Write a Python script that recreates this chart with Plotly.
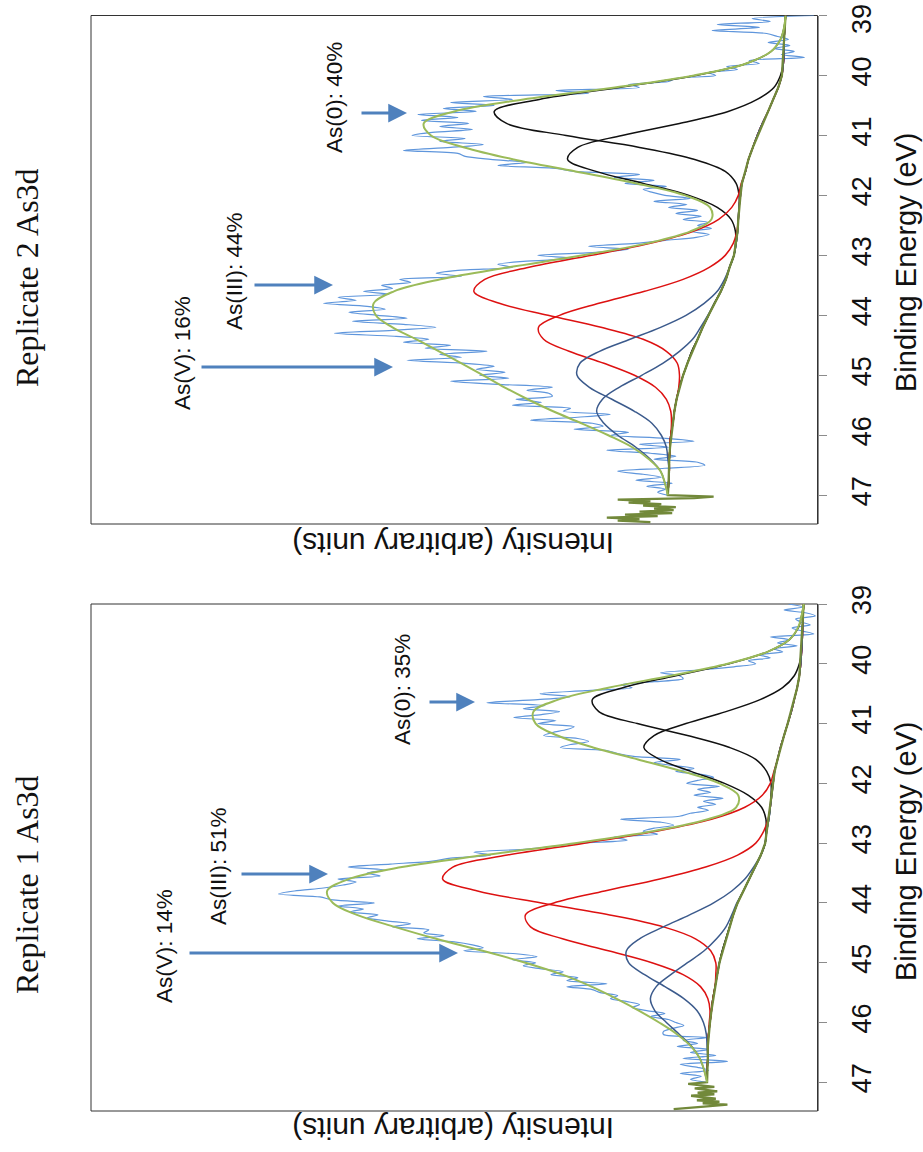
import plotly.graph_objects as go

W, H = 923, 1152

# ---------------- data ----------------
# binding-energy grid of the fitted curves (eV)
be_fit = [39.0, 39.2, 39.4, 39.6, 39.8, 40.0, 40.2, 40.4, 40.6, 40.8,
          41.0, 41.2, 41.4, 41.6, 41.8, 42.0, 42.2, 42.4, 42.6, 42.8,
          43.0, 43.2, 43.4, 43.6, 43.8, 44.0, 44.2, 44.4, 44.6, 44.8,
          45.0, 45.2, 45.4, 45.6, 45.8, 46.0, 46.2, 46.4, 46.6, 46.8, 47.0]

# binding-energy grid of the measured spectra (eV)
be_raw = [39.00, 39.05, 39.10, 39.15, 39.20, 39.25, 39.30, 39.35, 39.40, 39.45,
          39.50, 39.55, 39.60, 39.65, 39.70, 39.75, 39.80, 39.85, 39.90, 39.95,
          40.00, 40.05, 40.10, 40.15, 40.20, 40.25, 40.30, 40.35, 40.40, 40.45,
          40.50, 40.55, 40.60, 40.65, 40.70, 40.75, 40.80, 40.85, 40.90, 40.95,
          41.00, 41.05, 41.10, 41.15, 41.20, 41.25, 41.30, 41.35, 41.40, 41.45,
          41.50, 41.55, 41.60, 41.65, 41.70, 41.75, 41.80, 41.85, 41.90, 41.95,
          42.00, 42.05, 42.10, 42.15, 42.20, 42.25, 42.30, 42.35, 42.40, 42.45,
          42.50, 42.55, 42.60, 42.65, 42.70, 42.75, 42.80, 42.85, 42.90, 42.95,
          43.00, 43.05, 43.10, 43.15, 43.20, 43.25, 43.30, 43.35, 43.40, 43.45,
          43.50, 43.55, 43.60, 43.65, 43.70, 43.75, 43.80, 43.85, 43.90, 43.95,
          44.00, 44.05, 44.10, 44.15, 44.20, 44.25, 44.30, 44.35, 44.40, 44.45,
          44.50, 44.55, 44.60, 44.65, 44.70, 44.75, 44.80, 44.85, 44.90, 44.95,
          45.00, 45.05, 45.10, 45.15, 45.20, 45.25, 45.30, 45.35, 45.40, 45.45,
          45.50, 45.55, 45.60, 45.65, 45.70, 45.75, 45.80, 45.85, 45.90, 45.95,
          46.00, 46.05, 46.10, 46.15, 46.20, 46.25, 46.30, 46.35, 46.40, 46.45,
          46.50, 46.55, 46.60, 46.65, 46.70, 46.75, 46.80, 46.85, 46.90, 46.95,
          47.00]

# raw data beyond the fit window (drawn with the background colour)
be_tail = [47.0, 47.025, 47.05, 47.075, 47.1, 47.125, 47.15, 47.175, 47.2, 47.225,
           47.25, 47.275, 47.3, 47.325, 47.35, 47.375, 47.4, 47.425, 47.45]

ticks_be = [39, 40, 41, 42, 43, 44, 45, 46, 47]

# ---- Replicate 2 (upper panel) ----
r2_raw = [0.5, 9.0, 6.5, 13.8, 8.0, 14.5, 7.0, 5.5, 4.0, 6.8,
          3.8, 6.0, 3.2, 5.0, 1.8, 9.4, 8.0, 12.5, 11.0, 15.0,
          14.0, 19.5, 20.5, 26.0, 24.5, 36.0, 31.5, 46.0, 42.0, 50.5,
          44.5, 51.5, 47.0, 55.0, 49.5, 54.5, 48.0, 52.0, 47.5, 53.0,
          55.8, 48.5, 52.0, 46.0, 50.5, 57.0, 49.5, 48.5, 45.0, 40.0,
          44.0, 36.0, 33.5, 24.5, 28.0, 22.5, 26.5, 20.8, 24.0, 22.7,
          21.0, 17.5, 22.5, 18.0, 20.5, 16.5, 19.5, 16.0, 18.5, 15.0,
          16.5, 14.6, 17.5, 14.9, 16.7, 21.0, 25.0, 31.5, 26.0, 30.5,
          38.5, 33.5, 40.5, 44.0, 42.0, 49.5, 52.5, 49.0, 57.5, 56.0,
          60.0, 58.5, 62.5, 59.0, 66.0, 63.5, 68.0, 62.0, 59.5, 64.5,
          60.5, 56.5, 64.0, 57.0, 52.5, 58.5, 66.5, 58.0, 53.5, 57.0,
          50.5, 54.0, 45.5, 52.0, 49.0, 56.5, 48.5, 44.5, 47.0, 43.0,
          46.5, 42.5, 50.5, 44.0, 36.5, 40.0, 37.0, 36.5, 41.5, 38.0,
          42.0, 34.0, 35.0, 28.5, 33.0, 39.5, 31.0, 29.5, 33.5, 26.0,
          28.5, 21.0, 17.0, 24.5, 20.5, 29.0, 23.0, 19.5, 22.5, 16.5,
          15.5, 21.0, 27.5, 24.0, 21.5, 25.0, 20.0, 23.5, 21.0, 22.0,
          20.6]
r2_bg = [4.4, 4.5, 4.6, 4.6, 4.7, 4.9, 5.4, 6.1, 6.8, 7.6,
         8.3, 8.9, 9.5, 9.9, 10.4, 10.6, 10.8, 10.9, 11.0, 11.2,
         11.5, 12.1, 12.6, 13.3, 14.2, 15.0, 15.8, 16.5, 17.3, 17.9,
         18.5, 19.0, 19.4, 19.7, 19.9, 20.2, 20.3, 20.4, 20.4, 20.5, 20.6]
r2_tail = [20.6, 14.3, 17.0, 27.5, 23.0, 26.0, 21.5, 24.0, 19.5, 22.5,
           19.8, 24.5, 20.0, 26.5, 22.0, 29.0, 24.5, 27.5, 23.0]
r2_as0_a = [4.4, 4.6, 5.1, 6.4, 9.8, 16.8, 27.3, 38.3, 44.5, 42.8,
            34.6, 24.5, 16.9, 12.7, 11.2, 10.8, 10.8, 10.9, 11.0, 11.2,
            11.5, 12.1, 12.6, 13.3, 14.2, 15.0, 15.8, 16.5, 17.3, 17.9,
            18.5, 19.0, 19.4, 19.7, 19.9, 20.2, 20.3, 20.4, 20.4, 20.5, 20.6]
r2_as0_b = [4.4, 4.5, 4.6, 4.6, 4.7, 5.1, 6.0, 8.3, 12.3, 19.0,
            26.9, 33.0, 34.4, 30.5, 24.0, 17.7, 13.8, 11.9, 11.3, 11.3,
            11.5, 12.1, 12.6, 13.3, 14.2, 15.0, 15.8, 16.5, 17.3, 17.9,
            18.5, 19.0, 19.4, 19.7, 19.9, 20.2, 20.3, 20.4, 20.4, 20.5, 20.6]
r2_as3_a = [4.4, 4.5, 4.6, 4.6, 4.7, 4.9, 5.4, 6.1, 6.8, 7.6,
            8.3, 8.9, 9.5, 9.9, 10.5, 10.9, 11.8, 13.6, 17.1, 23.0,
            31.1, 39.7, 45.8, 47.3, 43.8, 37.1, 29.8, 24.0, 20.8, 19.3,
            19.0, 19.1, 19.4, 19.7, 19.9, 20.2, 20.3, 20.4, 20.4, 20.5, 20.6]
r2_as3_b = [4.4, 4.5, 4.6, 4.6, 4.7, 4.9, 5.4, 6.1, 6.8, 7.6,
            8.3, 8.9, 9.5, 9.9, 10.4, 10.6, 10.8, 10.9, 11.1, 11.6,
            12.7, 14.9, 18.5, 23.8, 30.1, 35.5, 38.4, 37.7, 34.2, 29.4,
            25.2, 22.3, 20.8, 20.2, 20.1, 20.2, 20.3, 20.4, 20.4, 20.5, 20.6]
r2_as5_a = [4.4, 4.5, 4.6, 4.6, 4.7, 4.9, 5.4, 6.1, 6.8, 7.6,
            8.3, 8.9, 9.5, 9.9, 10.4, 10.6, 10.8, 10.9, 11.0, 11.2,
            11.5, 12.1, 12.8, 13.8, 15.6, 18.1, 21.6, 25.8, 30.0, 32.7,
            33.1, 31.4, 28.3, 25.2, 22.8, 21.5, 20.8, 20.6, 20.4, 20.5, 20.6]
r2_as5_b = [4.4, 4.5, 4.6, 4.6, 4.7, 4.9, 5.4, 6.1, 6.8, 7.6,
            8.3, 8.9, 9.5, 9.9, 10.4, 10.6, 10.8, 10.9, 11.0, 11.2,
            11.5, 12.1, 12.6, 13.3, 14.2, 15.1, 16.1, 17.2, 19.0, 21.3,
            24.2, 27.3, 29.6, 30.4, 29.4, 27.5, 25.0, 23.0, 21.6, 21.0, 20.6]
r2_env = [4.4, 4.6, 5.1, 6.4, 9.8, 17.0, 27.9, 40.5, 50.0, 54.2,
          53.2, 48.6, 41.8, 33.3, 24.9, 18.2, 14.8, 14.6, 17.5, 23.5,
          32.3, 42.5, 51.9, 58.3, 61.1, 60.8, 58.5, 55.2, 52.1, 49.0,
          46.0, 43.1, 39.9, 36.4, 32.5, 28.8, 25.5, 23.2, 21.6, 21.0, 20.6]

# ---- Replicate 1 (lower panel) ----
r1_raw = [4.0, 2.0, 4.6, 1.5, 0.3, 3.0, 2.3, 1.0, 3.5, 2.2,
          0.5, 6.5, 3.8, 5.5, 2.8, 6.0, 4.8, 8.0, 6.5, 9.5,
          8.5, 11.5, 16.0, 21.6, 19.0, 18.5, 22.5, 27.0, 25.5, 32.0,
          38.2, 34.0, 38.5, 45.5, 37.5, 40.5, 35.5, 38.0, 41.8, 36.0,
          38.5, 33.5, 34.5, 36.5, 37.7, 33.0, 31.5, 34.0, 35.4, 29.0,
          27.5, 25.3, 18.9, 22.5, 20.0, 17.0, 19.5, 16.0, 14.3, 16.5,
          18.0, 13.5, 16.5, 14.7, 17.0, 13.0, 15.7, 14.0, 16.5, 15.0,
          17.5, 19.0, 27.1, 21.5, 19.8, 22.5, 24.0, 22.0, 28.0, 26.2,
          32.5, 36.0, 40.0, 47.3, 45.0, 50.5, 53.0, 58.8, 64.6, 59.5,
          62.0, 60.2, 66.0, 63.5, 65.3, 68.0, 72.0, 74.2, 68.5, 66.7,
          61.0, 66.0, 62.5, 64.3, 60.5, 62.0, 59.3, 56.0, 58.5, 53.5,
          54.2, 51.4, 55.1, 50.0, 47.5, 46.0, 48.7, 41.5, 38.6, 42.0,
          38.8, 40.5, 38.2, 35.0, 36.7, 33.0, 34.5, 29.0, 34.5, 31.0,
          29.9, 27.5, 28.5, 26.2, 24.5, 25.5, 23.5, 21.0, 23.0, 20.5,
          19.5, 18.4, 20.0, 21.2, 21.2, 15.2, 18.5, 16.5, 19.3, 15.0,
          17.5, 14.0, 18.5, 12.4, 18.9, 16.5, 15.0, 18.9, 16.0, 17.5,
          15.2]
r1_bg = [1.9, 2.0, 2.05, 2.1, 2.2, 2.3, 2.5, 2.8, 3.2, 3.6,
         4.1, 4.6, 5.1, 5.5, 5.9, 6.1, 6.3, 6.5, 6.7, 7.0,
         7.2, 7.8, 8.6, 9.4, 10.2, 11.0, 11.6, 12.1, 12.6, 13.1,
         13.5, 13.8, 14.1, 14.4, 14.6, 14.8, 15.0, 15.1, 15.1, 15.2, 15.2]
r1_tail = [15.2, 17.8, 15.5, 14.2, 16.9, 15.0, 13.8, 16.5, 14.2, 17.4,
           15.9, 14.0, 16.6, 13.5, 15.8, 12.4, 14.8, 17.5, 19.8]
r1_as0_a = [1.9, 2.2, 2.65, 3.9, 6.9, 12.2, 19.5, 26.8, 31.0, 30.1,
            24.8, 17.9, 12.1, 8.5, 7.0, 6.4, 6.4, 6.5, 6.7, 7.0,
            7.2, 7.8, 8.6, 9.4, 10.2, 11.0, 11.6, 12.1, 12.6, 13.1,
            13.5, 13.8, 14.1, 14.4, 14.6, 14.8, 15.0, 15.1, 15.1, 15.2, 15.2]
r1_as0_b = [1.9, 2.0, 2.05, 2.1, 2.2, 2.5, 3.2, 4.8, 7.9, 12.6,
            18.1, 22.5, 23.9, 21.7, 17.4, 12.8, 9.5, 7.7, 7.1, 7.1,
            7.2, 7.8, 8.6, 9.4, 10.2, 11.0, 11.6, 12.1, 12.6, 13.1,
            13.5, 13.8, 14.1, 14.4, 14.6, 14.8, 15.0, 15.1, 15.1, 15.2, 15.2]
r1_as3_a = [1.9, 2.0, 2.05, 2.1, 2.2, 2.3, 2.5, 2.8, 3.2, 3.6,
            4.1, 4.6, 5.1, 5.5, 6.0, 6.5, 7.6, 10.0, 14.6, 22.2,
            32.1, 42.7, 50.2, 51.6, 46.8, 38.0, 28.6, 21.2, 16.8, 14.7,
            14.0, 14.0, 14.1, 14.4, 14.6, 14.8, 15.0, 15.1, 15.1, 15.2, 15.2]
r1_as3_b = [1.9, 2.0, 2.05, 2.1, 2.2, 2.3, 2.5, 2.8, 3.2, 3.6,
            4.1, 4.6, 5.1, 5.5, 5.9, 6.1, 6.3, 6.5, 6.8, 7.4,
            8.5, 11.0, 15.4, 21.7, 29.3, 36.3, 40.2, 39.5, 35.1, 28.8,
            22.8, 18.5, 16.1, 15.1, 14.8, 14.9, 15.0, 15.1, 15.1, 15.2, 15.2]
r1_as5_a = [1.9, 2.0, 2.05, 2.1, 2.2, 2.3, 2.5, 2.8, 3.2, 3.6,
            4.1, 4.6, 5.1, 5.5, 5.9, 6.1, 6.3, 6.5, 6.7, 7.0,
            7.2, 7.8, 8.8, 10.0, 11.8, 14.3, 17.6, 21.2, 24.5, 26.3,
            26.0, 23.8, 21.0, 18.4, 16.6, 15.7, 15.3, 15.2, 15.1, 15.2, 15.2]
r1_as5_b = [1.9, 2.0, 2.05, 2.1, 2.2, 2.3, 2.5, 2.8, 3.2, 3.6,
            4.1, 4.6, 5.1, 5.5, 5.9, 6.1, 6.3, 6.5, 6.7, 7.0,
            7.2, 7.8, 8.6, 9.4, 10.2, 11.1, 11.8, 12.6, 13.9, 15.6,
            17.9, 20.2, 22.2, 23.0, 22.4, 20.8, 19.0, 17.3, 16.2, 15.6, 15.2]
r1_env = [1.9, 2.2, 2.7, 3.9, 6.9, 12.4, 20.2, 28.8, 35.7, 39.1,
          38.8, 35.8, 30.9, 24.7, 18.6, 13.5, 10.9, 11.2, 15.1, 22.7,
          33.4, 45.9, 57.2, 64.5, 67.5, 66.7, 63.4, 58.2, 52.5, 46.1,
          40.2, 35.1, 31.1, 27.7, 24.6, 21.8, 19.3, 17.4, 16.2, 15.6, 15.2]

titles = ["Replicate 2 As3d", "Replicate 1 As3d"]
labels_r2 = ["As(0): 40%", "As(III): 44%", "As(V): 16%"]
labels_r1 = ["As(0): 35%", "As(III): 51%", "As(V): 14%"]

# ---------------- styling ----------------
C_RAW = "#5f96dc"
C_ENV = "#9bbb59"
C_BG = "#72893a"
C_AS0 = "#111111"
C_AS3 = "#dd1111"
C_AS5 = "#3b5a8c"
C_ARROW = "#4f81bd"
SANS = "Liberation Sans, Arial, sans-serif"
SERIF = "Liberation Serif, Times New Roman, serif"


def px(x):
    return x / W


def py(y):
    return 1 - y / H


fig = go.Figure()


def add_panel(xa, ya, raw, bg, tail, comps, env):
    fig.add_trace(go.Scatter(x=raw, y=be_raw, xaxis=xa, yaxis=ya, mode="lines",
                             line=dict(color=C_RAW, width=1.2, shape="spline", smoothing=0.8),
                             hoverinfo="skip"))
    for vals, col in comps:
        fig.add_trace(go.Scatter(x=vals, y=be_fit, xaxis=xa, yaxis=ya, mode="lines",
                                 line=dict(color=col, width=1.5, shape="spline", smoothing=1.0),
                                 hoverinfo="skip"))
    fig.add_trace(go.Scatter(x=bg + tail[1:], y=be_fit + be_tail[1:], xaxis=xa, yaxis=ya,
                             mode="lines", line=dict(color=C_BG, width=2.3), hoverinfo="skip"))
    fig.add_trace(go.Scatter(x=env, y=be_fit, xaxis=xa, yaxis=ya, mode="lines",
                             line=dict(color=C_ENV, width=2.0, shape="spline", smoothing=1.0),
                             hoverinfo="skip"))


add_panel("x", "y", r2_raw, r2_bg, r2_tail,
          [(r2_as0_a, C_AS0), (r2_as0_b, C_AS0), (r2_as3_a, C_AS3), (r2_as3_b, C_AS3),
           (r2_as5_a, C_AS5), (r2_as5_b, C_AS5)], r2_env)
add_panel("x2", "y2", r1_raw, r1_bg, r1_tail,
          [(r1_as0_a, C_AS0), (r1_as0_b, C_AS0), (r1_as3_a, C_AS3), (r1_as3_b, C_AS3),
           (r1_as5_a, C_AS5), (r1_as5_b, C_AS5)], r1_env)

xdom = [px(91), px(817.5)]
top_dom = [py(524), py(15.5)]
bot_dom = [py(1111), py(604)]

xa = dict(domain=xdom, range=[100, 0], visible=False, fixedrange=True)
ya = dict(range=[47.48, 39], side="right", tickmode="array", tickvals=ticks_be,
          ticks="outside", ticklen=8,
          tickcolor="#8c8c8c", tickwidth=1, showline=True, linecolor="#8c8c8c",
          linewidth=1, showgrid=False, zeroline=False, tickangle=-90, automargin=False,
          ticklabeloverflow="allow", ticklabelstandoff=12,
          tickfont=dict(family=SANS, size=27, color="#111111"))

# the upper panel's "39" sits at the very top edge: it is drawn as a text
# nudged down a little so that it stays inside the page
top_ticktext = ["" if t == ticks_be[0] else str(t) for t in ticks_be]
bot_ticktext = [str(t) for t in ticks_be]

layout = dict(
    width=W, height=H, autosize=False,
    margin=dict(l=0, r=0, t=0, b=0, pad=0),
    paper_bgcolor="white", plot_bgcolor="white",
    showlegend=False,
    xaxis=dict(xa, anchor="y"),
    yaxis=dict(ya, domain=top_dom, anchor="x", ticktext=top_ticktext),
    xaxis2=dict(xa, anchor="y2"),
    yaxis2=dict(ya, domain=bot_dom, anchor="x2", ticktext=bot_ticktext),
)
fig.update_layout(**layout)

# frames
for xr, yr in (("x domain", "y domain"), ("x2 domain", "y2 domain")):
    fig.add_shape(type="rect", xref=xr, yref=yr, x0=0, x1=1, y0=0, y1=1,
                  line=dict(color="#333333", width=1), layer="below")

ann = []


def text(t, x, y, size, angle, family=SANS, color="#111111"):
    ann.append(dict(text=t, x=px(x), y=py(y), xref="paper", yref="paper",
                    showarrow=False, textangle=angle, xanchor="center", yanchor="middle",
                    font=dict(family=family, size=size, color=color)))


def arrow(x_tail, x_tip, y):
    ann.append(dict(text="", x=px(x_tip), y=py(y), xref="paper", yref="paper",
                    ax=x_tail - x_tip, ay=0, axref="pixel", ayref="pixel",
                    showarrow=True, arrowhead=2, arrowsize=1.25, arrowwidth=3,
                    arrowcolor=C_ARROW, standoff=0, startstandoff=0))


# upper-panel "39" tick label
text(str(ticks_be[0]), 862, 19, 27, -90)
# titles
text(titles[0], 27, 278, 32, -90, family=SERIF)
text(titles[1], 27, 885, 32, -90, family=SERIF)
# axis titles
for yc in (262, 851):
    text("Binding Energy (eV)", 906, yc, 29, -90)
for yc in (544, 1129):
    text("Intensity (arbitrary units)", 453, yc, 30, 180)

# peak labels + arrows, upper panel
text(labels_r2[0], 335, 98, 22.5, -90)
arrow(360, 407, 113)
text(labels_r2[1], 234, 271, 22.5, -90)
arrow(253, 333, 285)
text(labels_r2[2], 182, 353, 22.5, -90)
arrow(200, 393, 367)
# lower panel
text(labels_r1[0], 402, 690, 22.5, -90)
arrow(428, 475, 702)
text(labels_r1[1], 218, 866, 22.5, -90)
arrow(240, 328, 874)
text(labels_r1[2], 164, 946, 22.5, -90)
arrow(188, 458, 953)

fig.update_layout(annotations=ann)
fig.write_html("out.html")
